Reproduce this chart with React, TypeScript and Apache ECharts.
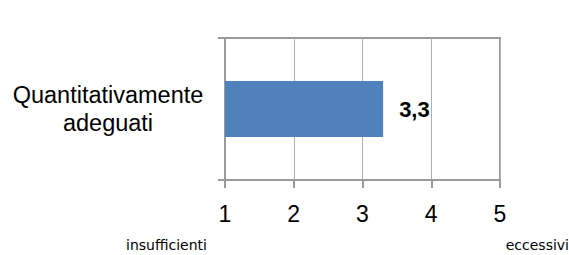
import React, { useEffect, useRef } from "react";
import * as echarts from "echarts";

const categories = ["Quantitativamente\nadeguati"];
const values = [3.3];
const scaleMin = 1;
const scaleMax = 5;
const lowLabel = "insufficienti";
const highLabel = "eccessivi";

export default function App() {
  const ref = useRef<HTMLDivElement>(null);
  useEffect(() => {
    if (!ref.current) return;
    const chart = echarts.init(ref.current, null, { renderer: "svg" });
    chart.setOption({
      animation: false,
      backgroundColor: "#ffffff",
      grid: {
        left: 225,
        right: 69,
        top: 38,
        bottom: 75,
        show: true,
        borderColor: "#9a9a9a",
        borderWidth: 2,
        backgroundColor: "transparent",
      },
      xAxis: {
        type: "value",
        min: scaleMin,
        max: scaleMax,
        interval: 1,
        axisLine: { show: true, lineStyle: { color: "#9a9a9a", width: 2 } },
        axisTick: { show: true, length: 8, lineStyle: { color: "#9a9a9a", width: 2 } },
        splitLine: { show: true, lineStyle: { color: "#b0b0b0", width: 1 } },
        axisLabel: {
          color: "#000000",
          fontSize: 23,
          fontFamily: "Liberation Sans, Arial, sans-serif",
          margin: 22,
        },
      },
      yAxis: {
        type: "category",
        data: categories,
        axisLine: { show: true, lineStyle: { color: "#9a9a9a", width: 2 } },
        axisTick: { show: true, length: 7, lineStyle: { color: "#9a9a9a", width: 2 } },
        axisLabel: {
          color: "#000000",
          fontSize: 23.5,
          lineHeight: 28,
          fontFamily: "Liberation Sans, Arial, sans-serif",
          align: "center",
          margin: 117,
        },
      },
      series: [
        {
          type: "bar",
          data: values,
          barWidth: 56,
          itemStyle: { color: "#4f81bd" },
          label: {
            show: true,
            position: "right",
            distance: 16,
            color: "#000000",
            fontSize: 22,
            fontWeight: "bold",
            fontFamily: "Liberation Sans, Arial, sans-serif",
            formatter: (p: any) => String(p.value).replace(".", ","),
          },
        },
      ],
      graphic: [
        {
          type: "text",
          left: 126,
          top: 238,
          style: {
            text: lowLabel,
            fill: "#000000",
            fontSize: 14,
            fontFamily: "DejaVu Sans, sans-serif",
          },
        },
        {
          type: "text",
          right: 0,
          top: 238,
          style: {
            text: highLabel,
            fill: "#000000",
            fontSize: 14,
            fontFamily: "DejaVu Sans, sans-serif",
          },
        },
      ],
    });
    return () => chart.dispose();
  }, []);
  return (
    <div
      ref={ref}
      style={{ position: "fixed", left: 0, top: 0, width: 569, height: 255 }}
    />
  );
}
